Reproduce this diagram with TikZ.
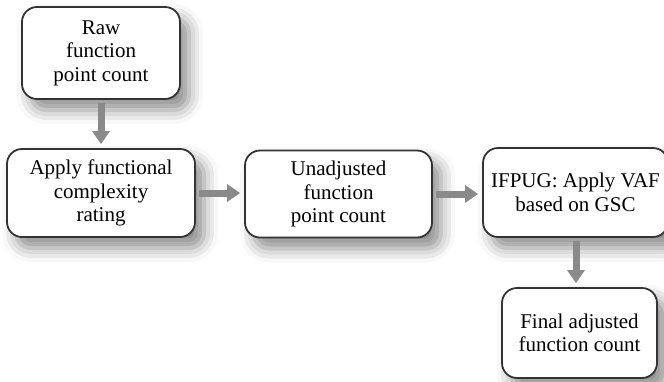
\documentclass[tikz,border=0pt]{standalone}
\usepackage{fontspec}
\setmainfont{Liberation Serif}
\usetikzlibrary{arrows.meta,shadows.blur,calc}

\definecolor{edge}{HTML}{333333}
\definecolor{flowgray}{HTML}{8A8A8A}

\tikzset{
  stepbox/.style={draw=edge, line width=1.8pt, fill=white, rounded corners=15pt,
    align=center, inner sep=2pt,
    font=\fontsize{21}{23.5}\selectfont,
    blur shadow={shadow xshift=9pt, shadow yshift=-11pt,
                 shadow blur radius=14pt, shadow opacity=45}},
  flow/.style={draw=flowgray, line width=7pt,
    -{Triangle[width=17pt,length=13pt]}, shorten <=3pt, shorten >=4pt}
}

\begin{document}
\begin{tikzpicture}[x=1pt,y=-1pt]
  \useasboundingbox (0,0) rectangle (664,381);

  \node[stepbox, minimum width=158pt, minimum height=92pt] (b1) at (101,53)
    {Raw\\function\\point count};
  \node[stepbox, minimum width=188pt, minimum height=88pt] (b2) at (101,193)
    {Apply functional\\complexity\\rating};
  \node[stepbox, minimum width=187pt, minimum height=87pt] (b3) at (338.5,194)
    {Unadjusted\\function\\point count};
  \node[stepbox, minimum width=185pt, minimum height=89pt] (b4) at (575.5,192.5)
    {IFPUG: Apply VAF\\based on GSC};
  \node[stepbox, minimum width=155pt, minimum height=90pt] (b5) at (579.5,333)
    {Final adjusted\\function count};

  \coordinate (m) at (576,0);

  \draw[flow] (b1.south) -- (b2.north);
  \draw[flow] (b2.east) -- (b2.east -| b3.west);
  \draw[flow] (b3.east) -- (b3.east -| b4.west);
  \draw[flow] (b4.south -| m) -- (b5.north -| m);
\end{tikzpicture}
\end{document}
